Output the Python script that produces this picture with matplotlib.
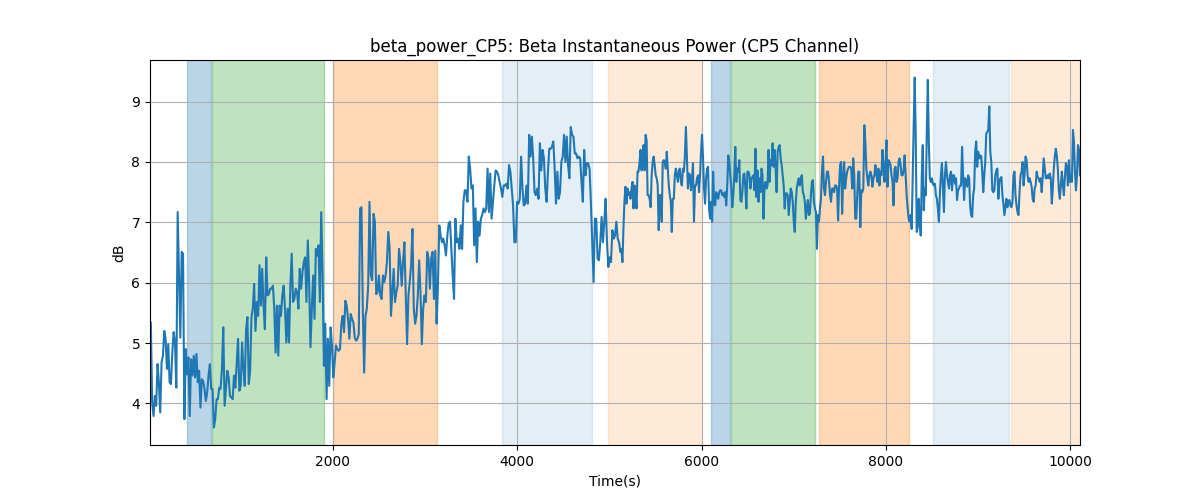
import numpy as np
from matplotlib import pyplot as plt

power_early = [
    5.34, 4.01, 3.79, 4.12, 3.96, 4.65, 4.35, 3.85, 4.68, 4.79, 5.20, 5.07, 4.57, 4.98, 4.35, 4.32,
    4.84, 5.18, 5.01, 4.26, 7.17, 6.12, 5.09, 6.51, 6.48, 3.74, 4.90, 4.48, 4.76, 3.79, 4.73, 4.46,
    4.79, 4.43, 4.82, 4.35, 4.54, 3.93, 4.40, 4.37, 4.24, 4.04, 4.18, 4.46, 4.65, 4.24, 4.24, 3.60,
    3.74, 4.07, 4.07, 4.26, 4.24, 4.57, 5.26, 3.96, 4.24, 4.54, 4.43, 4.12, 4.10, 4.07, 4.46, 4.26,
    4.68, 5.07, 4.21, 4.29, 5.01, 4.57, 4.29, 5.23, 5.43, 4.32, 4.54, 5.43, 5.57, 5.98, 5.20, 5.68,
    5.45, 6.29, 5.62, 6.23, 5.62, 5.23, 6.42,
    5.79, 5.81, 5.90, 5.90, 5.95, 5.57, 4.84, 5.62, 4.79, 5.62, 5.45, 5.79, 5.95, 5.57, 5.01, 5.57,
    5.01, 5.95, 6.48, 5.68, 5.73, 5.90, 5.84, 5.57, 6.23, 5.90, 6.17, 6.34, 6.42, 5.68, 6.70, 6.01,
    4.93, 5.57, 6.12, 5.40, 6.56, 6.45, 6.62, 5.68, 7.17, 6.17, 4.62, 5.32, 4.07, 5.07, 4.29, 5.26,
    4.96, 4.43, 4.68, 4.96, 4.90, 4.87, 4.90, 5.32, 5.45, 5.18, 5.70, 5.62, 5.40, 5.07, 5.48, 5.40,
    5.34, 5.09, 5.04, 5.07, 5.15, 7.23, 7.25, 5.57, 4.51, 5.45, 5.57, 5.95, 7.34, 6.12, 6.04, 7.14,
    7.01, 5.81, 5.84, 6.12, 5.79, 5.73, 6.12, 6.01,
    6.12, 6.34, 6.84, 6.56, 5.45, 5.84, 6.23, 5.68, 5.84, 5.95, 6.56, 6.34, 5.95, 6.34, 6.67, 5.84,
    4.98, 5.79, 6.01, 6.29, 6.89, 5.57, 5.32, 5.45, 5.79, 6.37, 5.84, 4.98, 5.57, 5.79, 5.68, 6.51,
    6.40, 5.90, 6.40, 6.51, 5.73, 6.53, 5.32, 5.95, 6.95, 6.78, 6.67, 6.73, 6.62, 6.45, 6.78, 6.98,
    7.01, 6.56, 6.12, 5.73, 7.06, 6.67, 6.73, 6.56, 6.95, 6.56, 7.34, 7.53, 7.53, 7.34, 8.09, 7.89,
    7.56, 7.61, 6.62, 7.23, 6.34, 7.01, 6.78, 7.06, 7.12, 7.23, 7.17, 7.23, 7.89, 7.17, 7.81, 7.06,
    7.34, 7.61, 7.86, 7.84, 7.78, 7.67, 7.56, 7.42,
    7.61, 7.61, 7.64, 7.56, 7.95, 7.84, 7.56, 7.28, 6.67, 6.67, 7.34, 7.31, 7.39, 8.09, 7.56, 7.28,
    7.31, 7.61, 7.31, 8.45, 8.09, 8.42, 8.06, 7.50, 7.45, 7.56, 7.39, 8.31, 7.86, 8.20, 8.06, 7.56,
    7.34, 7.84, 8.22, 8.22, 8.25, 8.34, 7.89, 7.31, 7.84, 7.39, 7.50, 8.00, 8.09, 8.45, 8.00, 8.42,
    7.95, 7.73, 8.58, 8.45, 8.42, 8.14, 8.14, 8.06, 8.09, 8.06, 7.67, 7.34, 8.20, 7.78, 7.98, 7.98,
    7.89, 7.34, 6.67, 6.01, 7.06, 7.06, 6.40, 6.37, 6.67, 7.09, 6.67, 7.01, 7.39, 6.67, 6.26, 6.42,
    6.34, 6.87, 6.73, 6.78, 7.01, 6.73, 6.67, 6.51,
]

# second part sampled ~every 11 s
power_late = [
    6.56, 6.34, 6.89, 7.34, 7.59, 7.31, 7.56, 7.45, 7.50, 7.39, 7.56, 7.67, 7.23, 7.61, 7.50, 7.23,
    7.84, 7.84, 8.00, 8.20, 7.86, 8.11, 8.28, 7.86, 8.45, 8.36, 7.45, 7.45, 7.39, 7.25, 7.78, 8.00,
    8.09, 7.95, 7.78, 7.73, 7.61, 6.87, 7.45, 7.45, 7.01, 8.00, 8.03, 8.00, 7.89, 8.17, 7.89, 7.61,
    7.45, 7.34, 6.84, 7.39, 7.39, 7.78, 7.89, 7.78, 7.67, 7.86, 7.89, 7.67, 7.61, 7.89, 7.84, 8.11,
    8.58, 8.06, 7.56, 7.81, 7.78, 7.53, 7.73, 7.98, 7.01, 7.61, 7.61, 7.73, 7.78, 7.50, 7.78, 8.17,
    8.45, 8.06, 7.56, 7.31, 7.73, 7.89, 7.92, 7.23, 7.06, 7.34, 7.01, 7.84, 7.31, 7.28, 7.50, 7.45,
    7.39, 7.50, 7.53, 7.53, 7.45, 7.48, 7.42, 7.50, 7.28, 7.61, 8.11, 8.00, 7.78, 7.59, 7.25, 7.45,
    7.78, 8.25, 7.67,
    7.89, 7.84, 8.03, 7.37, 7.34, 7.50, 7.78, 7.81, 7.56, 7.23, 7.84, 7.84, 7.78, 7.56, 7.73, 7.75,
    7.78, 7.53, 8.22, 7.42, 7.86, 7.34, 7.73, 7.50, 7.89, 7.78, 7.06, 7.59, 7.67, 7.56, 7.61, 8.20,
    7.67, 8.03, 7.95, 8.31, 7.92, 8.20, 7.89, 7.50, 8.17, 8.25, 8.28, 8.06, 7.95, 7.78, 7.61, 7.23,
    7.48, 7.48, 7.45, 7.12, 7.34, 7.56, 7.50, 7.34, 7.01, 6.84, 7.34, 7.56, 7.67, 7.73, 7.61, 7.73,
    7.78, 7.50, 7.45, 7.34, 7.06, 7.23, 7.37, 7.12, 7.14, 7.45, 7.67, 7.70, 7.34, 7.23, 7.17, 6.56,
    7.12, 7.01, 7.23, 7.39, 7.84, 8.09, 7.56, 7.45, 7.67, 7.84, 7.84, 7.67, 7.45, 7.34, 7.56, 7.56,
    7.50, 7.61, 7.61, 7.56, 7.03, 7.61, 7.95, 8.00, 7.14, 7.73, 8.00, 7.56, 7.73, 7.84, 7.89, 7.92,
    7.92, 7.89, 7.56, 8.06, 7.78, 7.06,
    7.06, 7.45, 7.84, 7.84, 6.92, 7.53, 7.50, 7.56, 8.61, 8.34, 7.89, 7.73, 7.61, 7.78, 7.84, 7.78,
    7.59, 7.73, 7.78, 7.95, 7.78, 7.67, 7.89, 7.61, 7.84, 7.78, 8.20, 7.95, 7.67, 7.95, 8.36, 7.59,
    8.03, 8.00, 7.95, 7.78, 7.67, 7.28, 7.89, 7.92, 7.67, 7.73, 8.00, 8.06, 7.95, 7.78, 7.78, 7.86,
    8.11, 7.78, 7.45, 7.23, 7.06, 7.01, 7.12, 6.89, 7.78, 8.61, 9.40, 8.45, 6.84, 6.92, 7.39, 7.01,
    6.78, 7.78, 8.28, 7.20, 7.56, 7.45, 8.50, 9.36, 8.34, 7.73, 7.67, 7.73, 7.64, 7.61, 7.64, 7.45,
    7.39, 7.23, 7.01, 7.48, 7.78, 7.98, 7.56, 7.17, 7.78, 8.00, 7.78, 7.67, 7.56, 7.78, 7.84, 7.53,
    7.78, 7.78, 7.64, 7.73, 7.37, 7.53, 7.56, 7.61, 7.61, 8.25, 7.78, 7.37, 7.73, 7.67, 7.59, 7.78,
    7.73, 7.28, 7.12, 7.09, 7.45, 7.56, 8.17,
    8.34, 7.92, 8.17, 8.06, 8.11, 8.09, 7.84, 7.50, 7.78, 8.00, 8.47, 8.50, 8.53, 8.92, 8.17, 8.00,
    7.53, 7.50, 7.53, 7.78, 7.86, 7.89, 7.39, 7.67, 7.73, 7.75, 7.45, 7.31, 7.12, 7.25, 7.39, 7.25,
    7.34, 7.37, 7.28, 7.25, 7.34, 7.78, 7.84, 7.45, 7.28, 7.17, 7.12, 7.50, 7.78, 7.84, 8.00, 7.61,
    7.78, 8.09, 8.03, 7.78, 7.67, 7.73, 7.67, 7.59, 7.39, 7.34, 7.56, 7.61, 7.84, 7.75, 7.73, 7.67,
    7.73, 7.50, 7.75, 8.06, 7.89, 7.73, 7.73, 7.78, 7.73, 7.81, 7.73, 7.31, 7.56, 7.89, 8.09, 8.22,
    8.11, 7.89, 7.53, 7.39, 7.61, 7.84, 7.61, 7.45, 7.75, 7.98, 7.92, 7.61, 8.03, 7.67, 7.78, 7.67,
    8.53, 8.34, 7.84, 7.53, 7.78, 8.28, 8.20, 7.78,
]

t_early = np.linspace(29, 5120, len(power_early))
t_late = np.linspace(5131, 10103, len(power_late))
time = np.concatenate([t_early, t_late])
power = np.array(power_early + power_late)

# shaded task epochs (start, end, colour, alpha)
span_start = [426, 694, 2009, 3837, 4987, 6103, 6320, 7274, 8513, 9355]
span_end = [680, 1905, 3130, 4810, 6002, 6309, 7227, 8249, 9337, 10103]
span_color = ["tab:blue", "tab:green", "tab:orange", "tab:blue", "tab:orange",
              "tab:blue", "tab:green", "tab:orange", "tab:blue", "tab:orange"]
span_alpha = [0.3, 0.3, 0.3, 0.12, 0.16, 0.3, 0.3, 0.3, 0.12, 0.16]

fig, ax = plt.subplots(figsize=(12, 5), dpi=100)
for s, e, c, a in zip(span_start, span_end, span_color, span_alpha):
    ax.axvspan(s, e, color=c, alpha=a)

ax.plot(time, power, color="tab:blue", linewidth=1.5)
ax.set_xlim(20, time[-1])
ax.grid(True)
ax.set_title("beta_power_CP5: Beta Instantaneous Power (CP5 Channel)")
ax.set_xlabel("Time(s)")
ax.set_ylabel("dB")
fig.savefig("out.png")
